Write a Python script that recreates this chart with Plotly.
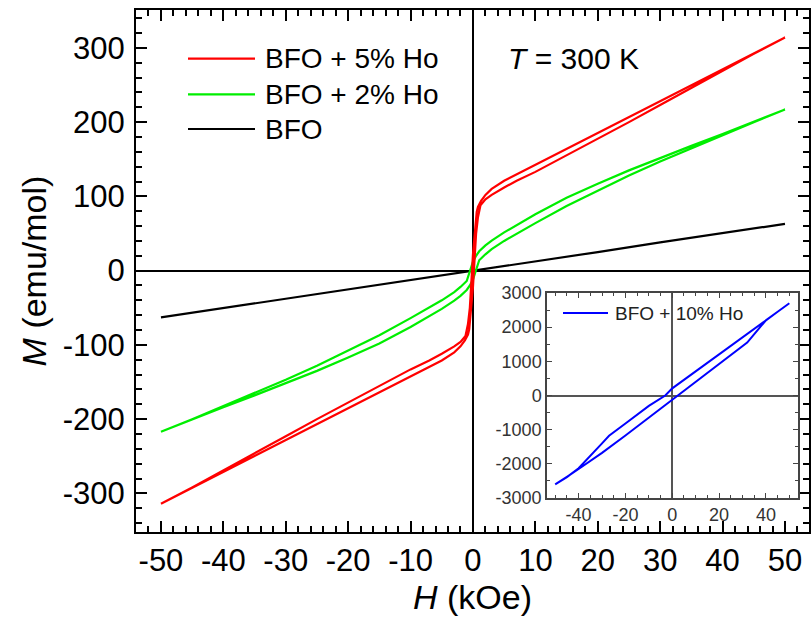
import plotly.graph_objects as go

# ---------------- data ----------------
# BFO + 5% Ho : descending branch (+50 -> -50) and ascending branch (-50 -> +50)
ho5_desc_H = [50, 45, 40, 35, 30, 25, 20, 15, 10, 7, 5, 3, 2, 1.3, 1, 0.8, 0.6, 0.4, 0.2, 0,
              -0.15, -0.3, -0.5, -0.8, -1, -1.2, -2, -3, -5, -7, -10, -15, -20, -25, -30, -35, -40, -45, -50]
ho5_desc_M = [314, 292.5, 271, 250, 228, 206.5, 185, 163.5, 142, 129.5, 121, 110, 102, 94, 90, 86, 79, 62, 38, 22,
              0, -22, -50, -72, -80, -88, -96, -102, -112, -121, -133, -155, -177, -200, -223, -246, -270, -292, -314]
ho5_asc_H = [-50, -45, -40, -35, -30, -25, -20, -15, -10, -7, -5, -3, -2, -1.3, -1, -0.8, -0.6, -0.4, -0.2, 0,
             0.15, 0.3, 0.5, 0.8, 1, 1.2, 2, 3, 5, 7, 10, 15, 20, 25, 30, 35, 40, 45, 50]
ho5_asc_M = [-314, -292.5, -271, -250, -228, -206.5, -185, -163.5, -142, -129.5, -121, -110, -102, -94, -90, -86, -79, -62, -38, -22,
             0, 22, 50, 72, 80, 88, 96, 102, 112, 121, 133, 155, 177, 200, 223, 246, 270, 292, 314]

# BFO + 2% Ho
ho2_desc_H = [50, 45, 40, 35, 30, 25, 20, 15, 10, 7, 5, 3, 2, 1, 0.5, 0, -0.5, -1, -2, -3, -5, -7, -10,
              -15, -20, -25, -30, -35, -40, -45, -50]
ho2_desc_M = [217, 200, 184, 168, 152, 135, 117, 98, 76, 61.5, 51.5, 40.5, 34, 26, 20, 12, -2, -14, -22, -29, -40, -50, -64,
              -87, -108, -128, -147, -165, -183, -200, -217]
ho2_asc_H = [-50, -45, -40, -35, -30, -25, -20, -15, -10, -7, -5, -3, -2, -1, -0.5, 0, 0.5, 1, 2, 3, 5, 7, 10,
             15, 20, 25, 30, 35, 40, 45, 50]
ho2_asc_M = [-217, -200, -184, -168, -152, -135, -117, -98, -76, -61.5, -51.5, -40.5, -34, -26, -20, -12, 2, 14, 22, 29, 40, 50, 64,
             87, 108, 128, 147, 165, 183, 200, 217]

# BFO
bfo_H = [-50, -40, -30, -20, -10, 0, 10, 20, 30, 40, 50]
bfo_M = [-63, -50.5, -38, -25, -12.5, 0, 12.5, 25, 38, 50.5, 63]

# Inset: BFO + 10% Ho
ho10_desc_H = [50, 45, 40, 30, 20, 10, 0, -3, -10, -20, -27, -30, -35, -40, -45, -50]
ho10_desc_M = [2700, 2450, 2200, 1710, 1200, 705, 210, 0, -305, -820, -1180, -1400, -1760, -2130, -2390, -2600]
ho10_asc_H = [-50, -45, -40, -30, -20, -10, 0, 2.5, 10, 20, 32, 36, 40, 45, 50]
ho10_asc_M = [-2600, -2380, -2150, -1680, -1170, -650, -130, 0, 380, 900, 1550, 1880, 2200, 2450, 2700]

# tick labels (hyphen minus as in the original)
main_x_ticks = [-50, -40, -30, -20, -10, 0, 10, 20, 30, 40, 50]
main_x_labels = ["-50", "-40", "-30", "-20", "-10", "0", "10", "20", "30", "40", "50"]
main_y_ticks = [-300, -200, -100, 0, 100, 200, 300]
main_y_labels = ["-300", "-200", "-100", "0", "100", "200", "300"]
inset_x_ticks = [-40, -20, 0, 20, 40]
inset_x_labels = ["-40", "-20", "0", "20", "40"]
inset_y_ticks = [-3000, -2000, -1000, 0, 1000, 2000, 3000]
inset_y_labels = ["-3000", "-2000", "-1000", "0", "1000", "2000", "3000"]

legend_names = ["BFO + 5% Ho", "BFO + 2% Ho", "BFO"]
legend_colors = ["#ff0000", "#00ee00", "#000000"]
inset_name = "BFO + 10% Ho"
inset_color = "#0000ff"

FONT = "Liberation Sans, Arial, sans-serif"

fig = go.Figure()
fig.add_trace(go.Scatter(x=bfo_H, y=bfo_M, mode="lines", name=legend_names[2],
                         line=dict(color=legend_colors[2], width=2.2), xaxis="x", yaxis="y"))
fig.add_trace(go.Scatter(x=ho2_desc_H + ho2_asc_H, y=ho2_desc_M + ho2_asc_M, mode="lines", name=legend_names[1],
                         line=dict(color=legend_colors[1], width=2.2), xaxis="x", yaxis="y"))
fig.add_trace(go.Scatter(x=ho5_desc_H + ho5_asc_H, y=ho5_desc_M + ho5_asc_M, mode="lines", name=legend_names[0],
                         line=dict(color=legend_colors[0], width=2.2), xaxis="x", yaxis="y"))
fig.add_trace(go.Scatter(x=ho10_desc_H + ho10_asc_H, y=ho10_desc_M + ho10_asc_M, mode="lines", name=inset_name,
                         line=dict(color=inset_color, width=2), xaxis="x2", yaxis="y2"))

W, H = 811, 622
ML, MR, MT, MB = 136, 2, 10, 90
PW, PH = W - ML - MR, H - MT - MB


def px2paper(px, py):
    return (px - ML) / PW, (H - MB - py) / PH


main_axis = dict(showgrid=False, showline=True, linewidth=2, linecolor="black", mirror="ticks",
                 ticks="inside", ticklen=11, tickwidth=2, tickcolor="black", automargin=False,
                 zeroline=True, zerolinecolor="black", zerolinewidth=1.5, tickmode="array",
                 tickfont=dict(family=FONT, size=31, color="black"))

ix0, iy0 = px2paper(547, 498)
ix1, iy1 = px2paper(798, 293)

inset_axis = dict(showgrid=False, showline=True, linewidth=1.5, linecolor="#444", mirror="ticks",
                  ticks="inside", ticklen=5, tickwidth=1.2, tickcolor="#444", automargin=False,
                  zeroline=True, zerolinecolor="#555", zerolinewidth=1.5, tickmode="array",
                  tickfont=dict(family=FONT, size=18, color="#333"))

fig.update_layout(
    width=W, height=H, margin=dict(l=ML, r=MR, t=MT, b=MB, autoexpand=False),
    paper_bgcolor="white", plot_bgcolor="white", showlegend=False,
    xaxis=dict(main_axis, range=[-54, 53.85], tickvals=main_x_ticks, ticktext=main_x_labels, domain=[0, 1],
               minor=dict(dtick=2, tick0=0, ticklen=6, tickwidth=1.5, ticks="inside", tickcolor="black"),
               ticklabelstandoff=0,
               title=dict(text="<i>H</i> (kOe)", font=dict(family=FONT, size=34, color="black"), standoff=8)),
    yaxis=dict(main_axis, range=[-352, 351], tickvals=main_y_ticks, ticktext=main_y_labels, domain=[0, 1],
               minor=dict(dtick=20, tick0=0, ticklen=6, tickwidth=1.5, ticks="inside", tickcolor="black"),
               ticklabelstandoff=3,
               title=dict(text="<i>M</i> (emu/mol)", font=dict(family=FONT, size=34, color="black"), standoff=6)),
    xaxis2=dict(inset_axis, range=[-53.5, 53.7], tickvals=inset_x_ticks, ticktext=inset_x_labels,
                domain=[ix0, ix1], anchor="y2",
                minor=dict(dtick=5, tick0=0, ticklen=3, tickwidth=1, ticks="inside", tickcolor="#444")),
    yaxis2=dict(inset_axis, range=[-3000, 3000], tickvals=inset_y_ticks, ticktext=inset_y_labels,
                domain=[iy0, iy1], anchor="x2",
                minor=dict(dtick=500, tick0=0, ticklen=3, tickwidth=1, ticks="inside", tickcolor="#444")),
)

# manual legend (long line samples like the original)
leg_rows_py = [58.7, 94.3, 129]
for name, col, py in zip(legend_names, legend_colors, leg_rows_py):
    x0, y0 = px2paper(188, py)
    x1, _ = px2paper(255, py)
    fig.add_shape(type="line", xref="paper", yref="paper", x0=x0, x1=x1, y0=y0, y1=y0,
                  line=dict(color=col, width=2.2))
    tx, _ = px2paper(263, py)
    fig.add_annotation(xref="paper", yref="paper", x=tx, y=y0, xanchor="left", yanchor="middle",
                       text=name, showarrow=False, font=dict(family=FONT, size=28, color="black"))

x0, y0 = px2paper(563, 313)
x1, _ = px2paper(608, 313)
fig.add_shape(type="line", xref="paper", yref="paper", x0=x0, x1=x1, y0=y0, y1=y0,
              line=dict(color=inset_color, width=2))
tx, _ = px2paper(613, 313)
fig.add_annotation(xref="paper", yref="paper", x=tx, y=y0, xanchor="left", yanchor="middle",
                   text=inset_name, showarrow=False, font=dict(family=FONT, size=19, color="#222"))

tx, ty = px2paper(573, 58)
fig.add_annotation(xref="paper", yref="paper", x=tx, y=ty, xanchor="center", yanchor="middle",
                   text="<i>T</i> = 300 K", showarrow=False, font=dict(family=FONT, size=30, color="black"))

fig.write_html("out.html", config={"displayModeBar": False},
               post_script="document.body.style.margin='0';document.body.style.overflow='hidden';")
